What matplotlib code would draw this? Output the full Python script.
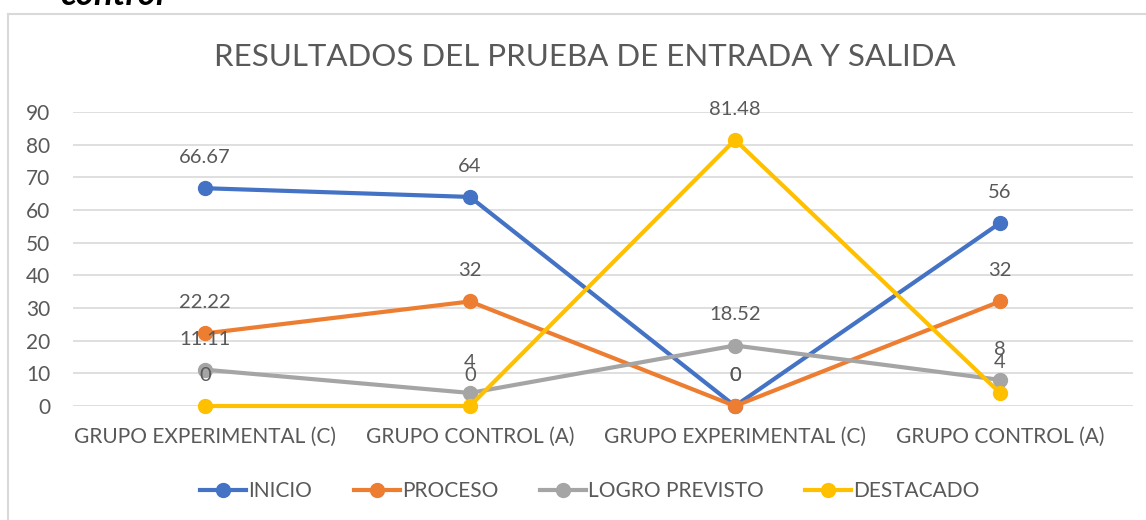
import matplotlib.pyplot as plt
from matplotlib.lines import Line2D

# data
categorias = ["GRUPO EXPERIMENTAL (C)", "GRUPO CONTROL (A)",
              "GRUPO EXPERIMENTAL (C)", "GRUPO CONTROL (A)"]
inicio = [66.67, 64, 0, 56]
proceso = [22.22, 32, 0, 32]
logro_previsto = [11.11, 4, 18.52, 8]
destacado = [0, 0, 81.48, 4]

series = [
    ("INICIO", inicio, "#4472C4"),
    ("PROCESO", proceso, "#ED7D31"),
    ("LOGRO PREVISTO", logro_previsto, "#A5A5A5"),
    ("DESTACADO", destacado, "#FFC000"),
]

txt = "#595959"
plt.rcParams["font.family"] = ["Lato", "DejaVu Sans"]

fig = plt.figure(figsize=(11.46, 5.2), dpi=100)
ax = fig.add_axes([72.5 / 1146, 1 - 406 / 520, 1060 / 1146, 294 / 520])

x = list(range(len(categorias)))
for name, vals, col in series:
    ax.plot(x, vals, color=col, lw=3, marker="o", ms=10, label=name,
            clip_on=False)
    for xi, v in zip(x, vals):
        ax.annotate(f"{v:g}", (xi, v), xytext=(0, 22), textcoords="offset points",
                    ha="center", va="center", fontsize=14.5, color=txt)

ax.set_xlim(-0.5, 3.5)
ax.set_ylim(0, 90)
ax.set_yticks(range(0, 91, 10))
ax.set_xticks(x)
ax.set_xticklabels(categorias)
ax.grid(axis="y", color="#D9D9D9", lw=1.2)
ax.set_axisbelow(True)
for s in ax.spines.values():
    s.set_visible(False)
ax.tick_params(length=0, labelsize=15, labelcolor=txt)
ax.tick_params(axis="y", pad=16)
ax.tick_params(axis="x", pad=15)

fig.text(585 / 1146, 1 - 57 / 520, "RESULTADOS DEL PRUEBA DE ENTRADA Y SALIDA",
         ha="center", va="center", fontsize=22.5, color=txt)

fig.legend(loc="center", bbox_to_anchor=(590 / 1146, 1 - 491 / 520), ncol=4,
           frameon=False, fontsize=15, labelcolor=txt, handlelength=2.2,
           columnspacing=2.0, handletextpad=0.1)

# chart frame and clipped heading above
fig.add_artist(Line2D([8 / 1146, 8 / 1146], [0, 1 - 14 / 520], color="#D9D9D9", lw=1.5))
fig.add_artist(Line2D([8 / 1146, 1], [1 - 14 / 520, 1 - 14 / 520], color="#D9D9D9", lw=1.5))
fig.text(60 / 1146, 1 - 5 / 520, "control", ha="left", va="baseline",
         fontsize=25, fontweight="bold", fontstyle="italic", color="black")

fig.savefig("out.png", dpi=100)
